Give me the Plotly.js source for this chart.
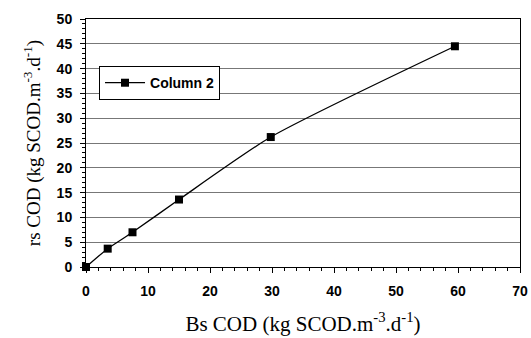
<!DOCTYPE html>
<html><head><meta charset="utf-8">
<script src="https://cdn.plot.ly/plotly-3.0.1.min.js"></script>
<style>body{margin:0;background:#fff}#c{width:531px;height:338px}</style>
</head><body><div id="c"></div>
<script>
const seriesName = "Column 2";
const bsCOD = [0, 3.5, 7.5, 15, 29.8, 59.5];
const rsCOD = [0, 3.7, 7.0, 13.6, 26.2, 44.5];
const xTicks = [0, 10, 20, 30, 40, 50, 60, 70];
const yTicks = [0, 5, 10, 15, 20, 25, 30, 35, 40, 45, 50];

const trace = {
  x: bsCOD, y: rsCOD, name: '<b>' + seriesName + '</b>', type: 'scatter', mode: 'lines+markers',
  line: {color: '#000', width: 1.3, shape: 'spline', smoothing: 0.6},
  marker: {symbol: 'square', size: 8, color: '#000'},
  cliponaxis: false
};
const tickFont = {family: 'Arial, Liberation Sans', size: 14, color: '#000', weight: 700};
const titleFont = {family: 'Liberation Serif, Times New Roman', size: 19, color: '#000'};
const layout = {
  width: 531, height: 338,
  margin: {l: 86, r: 11, t: 19, b: 71},
  paper_bgcolor: '#fff', plot_bgcolor: '#fff',
  showlegend: true,
  legend: {x: 0.03, y: 0.81, xanchor: 'left', yanchor: 'top', bgcolor: '#fff', bordercolor: '#000', borderwidth: 1,
    font: {family: 'Arial, Liberation Sans', size: 14, color: '#000', weight: 700}, itemwidth: 40, tracegroupgap: 0},
  xaxis: {
    range: [0, 70], tickvals: xTicks, ticktext: xTicks.map(v => '<b>' + v + '</b>'),
    showgrid: false, zeroline: false, showline: true, linecolor: '#000', linewidth: 1, mirror: true,
    ticks: 'outside', ticklen: 5, tickcolor: '#000', tickfont: tickFont, ticklabelstandoff: 6,
    minor: {dtick: 2, ticks: 'outside', ticklen: 3, tickcolor: '#000', showgrid: false},
    title: {text: 'Bs COD (kg SCOD.m<sup>-3</sup>.d<sup>-1</sup>)', font: Object.assign({}, titleFont, {size: 21}), standoff: 18}
  },
  yaxis: {
    range: [0, 50], tickvals: yTicks, ticktext: yTicks.map(v => '<b>' + v + '</b>'),
    showgrid: true, gridcolor: '#777', gridwidth: 1, zeroline: false,
    showline: true, linecolor: '#000', linewidth: 1, mirror: true,
    ticks: 'outside', ticklen: 5, tickcolor: '#000', tickfont: tickFont, ticklabelstandoff: 5,
    minor: {dtick: 1, ticks: 'outside', ticklen: 3, tickcolor: '#000', showgrid: false},
    title: {text: 'rs COD (kg SCOD.m<sup>-3</sup>.d<sup>-1</sup>)', font: titleFont, standoff: 10}
  }
};
Plotly.newPlot('c', [trace], layout, {displayModeBar: false, staticPlot: true});
</script></body></html>
